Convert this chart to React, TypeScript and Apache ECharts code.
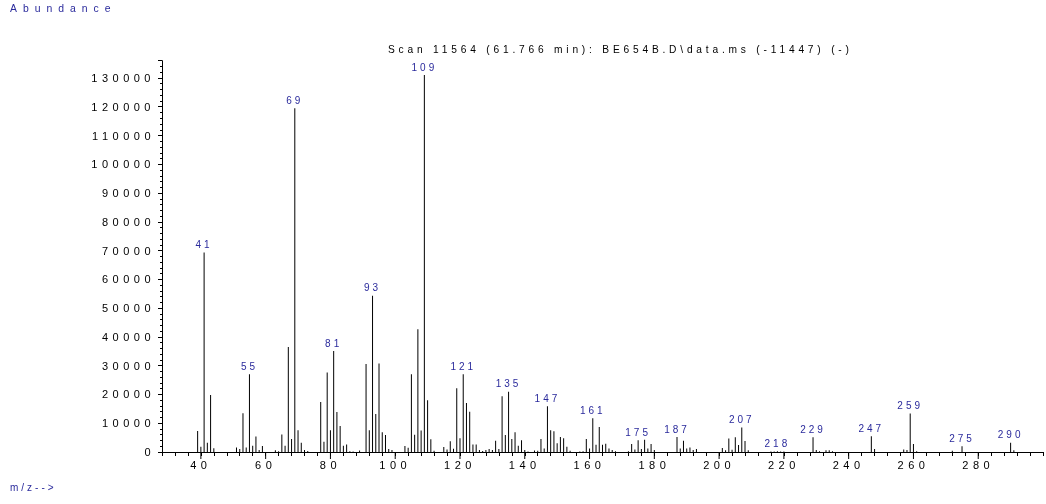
import React, { useEffect, useRef } from 'react';
import * as echarts from 'echarts';

const mzValues = [
  39, 40, 41, 42, 43, 44, 51, 52, 53, 54, 55, 56, 57, 58, 59, 63, 64, 65, 66, 67, 68, 69, 70, 71, 72, 73,
  77, 78, 79, 80, 81, 82, 83, 84, 85, 86, 87, 89, 91, 92, 93, 94, 95, 96, 97, 98, 99,
  103, 104, 105, 106, 107, 108, 109, 110, 111, 112, 115, 116, 117, 118, 119, 120, 121, 122, 123, 124, 125,
  126, 127, 128, 129, 130, 131, 132, 133, 134, 135, 136, 137, 138, 139, 140, 141, 143, 144, 145, 146, 147,
  148, 149, 150, 151, 152, 153, 154, 157, 158, 159, 160, 161, 162, 163, 164, 165, 166, 167, 168,
  172, 173, 174, 175, 176, 177, 178, 179, 180, 187, 188, 189, 190, 191, 192, 193,
  201, 202, 203, 204, 205, 206, 207, 208, 209, 216, 217, 218, 219, 220, 229, 230, 231, 233, 234, 235,
  247, 248, 257, 258, 259, 260, 261, 272, 275, 290, 291,
];

const abundances = [
  7300, 1800, 69300, 3200, 19800, 1300, 1600, 1000, 13500, 1600, 27000, 2200, 5400, 700, 2100, 600, 300, 6100, 2200, 36500, 4500, 119500, 7600, 3200, 700, 350,
  17400, 3600, 27600, 7600, 35100, 13900, 9000, 2200, 2600, 300, 200, 500, 30600, 7600, 54300, 13200, 30800, 6900, 5900, 1000, 700,
  2100, 1500, 27000, 6000, 42700, 7500, 131000, 18000, 4400, 400, 1700, 900, 3700, 1100, 22200, 4800, 27000, 17000, 14000, 2600, 2600,
  700, 350, 700, 1000, 700, 3900, 1000, 19400, 5900, 20900, 4500, 6900, 2200, 4100, 700, 200, 500, 400, 4500, 1200, 15900,
  7600, 7200, 3000, 5200, 4800, 1800, 400, 200, 300, 4500, 1200, 11700, 2500, 8700, 2500, 2900, 1200, 700, 300,
  300, 2800, 900, 4100, 1000, 4300, 1200, 2800, 700, 5200, 1200, 3900, 1200, 1600, 700, 1000,
  1400, 600, 4700, 800, 5100, 2400, 8500, 3800, 600, 200, 200, 300, 200, 200, 5100, 700, 300, 600, 600, 300,
  5500, 1000, 900, 700, 13400, 2800, 300, 400, 2000, 3200, 600,
];

const labeledPeaks = [41, 55, 69, 81, 93, 109, 121, 135, 147, 161, 175, 187, 207, 218, 229, 247, 259, 275, 290];

const xTickLabels = [40, 60, 80, 100, 120, 140, 160, 180, 200, 220, 240, 260, 280];
const yTickLabels = [0, 10000, 20000, 30000, 40000, 50000, 60000, 70000, 80000, 90000, 100000, 110000, 120000, 130000];

const titleText = 'Scan 11564 (61.766 min): BE654B.D\\data.ms (-11447) (-)';
const yAxisTitle = 'Abundance';
const xAxisTitle = 'm/z-->';

const FONT = '"Liberation Sans", Arial, Helvetica, sans-serif';
const BLUE = '#2a2a9c';

const css = `
text[style*="11px"]{letter-spacing:4.5px;}
text[style*="10px"]{letter-spacing:3px;}
text[style*="10.2px"]{letter-spacing:3.8px;}
text[style*="10.4px"]{letter-spacing:6px;}
`;

export default function App() {
  const ref = useRef<HTMLDivElement>(null);
  useEffect(() => {
    const chart = echarts.init(ref.current as HTMLDivElement, null, { renderer: 'svg' });
    const data = mzValues.map((m, i) =>
      labeledPeaks.includes(m)
        ? { value: [m, abundances[i]], label: { show: true, formatter: String(m) } }
        : { value: [m, abundances[i]] }
    );
    chart.setOption({
      animation: false,
      grid: { left: 162, right: 2.7, top: 60.7, bottom: 52, containLabel: false },
      graphic: [
        { type: 'text', left: 10, top: 3, style: { text: yAxisTitle, fontSize: 10.4, fill: BLUE, fontFamily: FONT } },
        { type: 'text', left: 10, top: 482, style: { text: xAxisTitle, fontSize: 10, fill: BLUE, fontFamily: FONT } },
        { type: 'text', left: 388, top: 44, style: { text: titleText, fontSize: 10.2, fill: '#000', fontFamily: FONT } },
      ],
      xAxis: {
        type: 'value',
        min: 28,
        max: 300,
        interval: 4,
        axisLine: { show: true, onZero: false, lineStyle: { color: '#000', width: 1 } },
        axisTick: { show: true, length: 4, lineStyle: { color: '#000', width: 1 } },
        splitLine: { show: false },
        axisLabel: {
          formatter: (v: number) => (xTickLabels.includes(v) ? String(v) : ''),
          fontSize: 11,
          color: '#000',
          margin: 7,
          fontFamily: FONT,
        },
      },
      yAxis: {
        type: 'value',
        min: 0,
        max: 136000,
        interval: 10000,
        axisLine: { show: true, lineStyle: { color: '#000', width: 1 } },
        axisTick: { show: true, length: 4, lineStyle: { color: '#000', width: 1 } },
        minorTick: { show: true, splitNumber: 5, length: 2, lineStyle: { color: '#000', width: 1 } },
        splitLine: { show: false },
        minorSplitLine: { show: false },
        axisLabel: {
          formatter: (v: number) => (yTickLabels.includes(v) ? String(v) : ''),
          fontSize: 11,
          color: '#000',
          margin: 7,
          fontFamily: FONT,
        },
      },
      series: [
        {
          type: 'bar',
          data,
          barWidth: 1,
          itemStyle: { color: '#000' },
          label: { show: false, position: 'top', distance: 3, fontSize: 10, color: BLUE, fontFamily: FONT },
          emphasis: { disabled: true },
          silent: true,
        },
        {
          type: 'custom',
          data: xTickLabels.map((v) => [v, 0]),
          silent: true,
          clip: false,
          z: 3,
          renderItem: (_params: any, api: any) => {
            const p = api.coord([api.value(0), 0]);
            return {
              type: 'line',
              shape: { x1: p[0], y1: p[1], x2: p[0], y2: p[1] + 7 },
              style: { stroke: '#000', lineWidth: 1 },
            };
          },
        },
      ],
    });
    return () => chart.dispose();
  }, []);
  return (
    <>
      <style>{css}</style>
      <div ref={ref} style={{ position: 'fixed', left: 0, top: 0, width: 1046, height: 504 }} />
    </>
  );
}
